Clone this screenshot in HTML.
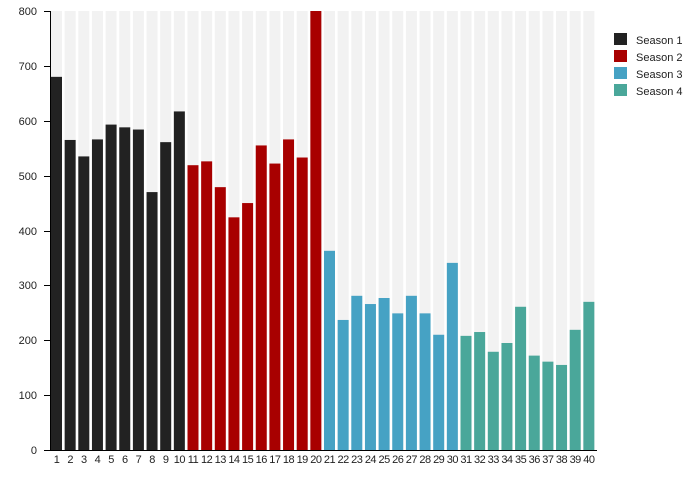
<!DOCTYPE html>
<html><head><meta charset="utf-8"><style>
html,body{margin:0;padding:0;background:#fff;}
svg{display:block;font-family:"Liberation Sans",sans-serif;}
</style></head><body>
<svg width="696" height="500" xmlns="http://www.w3.org/2000/svg">
<g transform="translate(0,450) scale(1,-0.54875)">
<g fill="#f2f2f2">
<rect x="51" y="0" width="11" height="800"/><rect x="64.65" y="0" width="11" height="800"/><rect x="78.3" y="0" width="11" height="800"/><rect x="91.95" y="0" width="11" height="800"/><rect x="105.6" y="0" width="11" height="800"/><rect x="119.25" y="0" width="11" height="800"/><rect x="132.9" y="0" width="11" height="800"/><rect x="146.55" y="0" width="11" height="800"/><rect x="160.2" y="0" width="11" height="800"/><rect x="173.85" y="0" width="11" height="800"/><rect x="187.5" y="0" width="11" height="800"/><rect x="201.15" y="0" width="11" height="800"/><rect x="214.8" y="0" width="11" height="800"/><rect x="228.45" y="0" width="11" height="800"/><rect x="242.1" y="0" width="11" height="800"/><rect x="255.75" y="0" width="11" height="800"/><rect x="269.4" y="0" width="11" height="800"/><rect x="283.05" y="0" width="11" height="800"/><rect x="296.7" y="0" width="11" height="800"/><rect x="310.35" y="0" width="11" height="800"/><rect x="324" y="0" width="11" height="800"/><rect x="337.65" y="0" width="11" height="800"/><rect x="351.3" y="0" width="11" height="800"/><rect x="364.95" y="0" width="11" height="800"/><rect x="378.6" y="0" width="11" height="800"/><rect x="392.25" y="0" width="11" height="800"/><rect x="405.9" y="0" width="11" height="800"/><rect x="419.55" y="0" width="11" height="800"/><rect x="433.2" y="0" width="11" height="800"/><rect x="446.85" y="0" width="11" height="800"/><rect x="460.5" y="0" width="11" height="800"/><rect x="474.15" y="0" width="11" height="800"/><rect x="487.8" y="0" width="11" height="800"/><rect x="501.45" y="0" width="11" height="800"/><rect x="515.1" y="0" width="11" height="800"/><rect x="528.75" y="0" width="11" height="800"/><rect x="542.4" y="0" width="11" height="800"/><rect x="556.05" y="0" width="11" height="800"/><rect x="569.7" y="0" width="11" height="800"/><rect x="583.35" y="0" width="11" height="800"/>
</g>
<g fill="#222222">
<rect x="51" y="0" width="11" height="680"/><rect x="64.65" y="0" width="11" height="565"/><rect x="78.3" y="0" width="11" height="535"/><rect x="91.95" y="0" width="11" height="566"/><rect x="105.6" y="0" width="11" height="593"/><rect x="119.25" y="0" width="11" height="588"/><rect x="132.9" y="0" width="11" height="584"/><rect x="146.55" y="0" width="11" height="470"/><rect x="160.2" y="0" width="11" height="561"/><rect x="173.85" y="0" width="11" height="617"/>
</g>
<g fill="#a80000">
<rect x="187.5" y="0" width="11" height="519"/><rect x="201.15" y="0" width="11" height="526"/><rect x="214.8" y="0" width="11" height="479"/><rect x="228.45" y="0" width="11" height="424"/><rect x="242.1" y="0" width="11" height="450"/><rect x="255.75" y="0" width="11" height="555"/><rect x="269.4" y="0" width="11" height="522"/><rect x="283.05" y="0" width="11" height="566"/><rect x="296.7" y="0" width="11" height="533"/><rect x="310.35" y="0" width="11" height="800"/>
</g>
<g fill="#46a2c4">
<rect x="324" y="0" width="11" height="363"/><rect x="337.65" y="0" width="11" height="237"/><rect x="351.3" y="0" width="11" height="281"/><rect x="364.95" y="0" width="11" height="266"/><rect x="378.6" y="0" width="11" height="277"/><rect x="392.25" y="0" width="11" height="249"/><rect x="405.9" y="0" width="11" height="281"/><rect x="419.55" y="0" width="11" height="249"/><rect x="433.2" y="0" width="11" height="210"/><rect x="446.85" y="0" width="11" height="341"/>
</g>
<g fill="#4aa79a">
<rect x="460.5" y="0" width="11" height="208"/><rect x="474.15" y="0" width="11" height="215"/><rect x="487.8" y="0" width="11" height="179"/><rect x="501.45" y="0" width="11" height="195"/><rect x="515.1" y="0" width="11" height="261"/><rect x="528.75" y="0" width="11" height="172"/><rect x="542.4" y="0" width="11" height="161"/><rect x="556.05" y="0" width="11" height="155"/><rect x="569.7" y="0" width="11" height="219"/><rect x="583.35" y="0" width="11" height="270"/>
</g>
</g>
<g stroke="#000" stroke-width="1" fill="none" shape-rendering="crispEdges">
<line x1="50.5" y1="11" x2="50.5" y2="450"/>
<line x1="44" y1="450.5" x2="597" y2="450.5"/>
<line x1="44" y1="11.5" x2="50" y2="11.5"/>
<line x1="44" y1="66.5" x2="50" y2="66.5"/>
<line x1="44" y1="121.5" x2="50" y2="121.5"/>
<line x1="44" y1="176.5" x2="50" y2="176.5"/>
<line x1="44" y1="231.5" x2="50" y2="231.5"/>
<line x1="44" y1="285.5" x2="50" y2="285.5"/>
<line x1="44" y1="340.5" x2="50" y2="340.5"/>
<line x1="44" y1="395.5" x2="50" y2="395.5"/>
</g>
<g font-size="11" fill="#222" text-anchor="end">
<text x="37" y="15">800</text><text x="37" y="70">700</text><text x="37" y="125">600</text><text x="37" y="180">500</text><text x="37" y="235">400</text><text x="37" y="289">300</text><text x="37" y="344">200</text><text x="37" y="399">100</text><text x="37" y="454">0</text>
</g>
<g font-size="11" fill="#222" text-anchor="middle" letter-spacing="-0.5">
<text x="56.5" y="463">1</text><text x="70.15" y="463">2</text><text x="83.8" y="463">3</text><text x="97.45" y="463">4</text><text x="111.1" y="463">5</text><text x="124.75" y="463">6</text><text x="138.4" y="463">7</text><text x="152.05" y="463">8</text><text x="165.7" y="463">9</text><text x="179.35" y="463">10</text><text x="193" y="463">11</text><text x="206.65" y="463">12</text><text x="220.3" y="463">13</text><text x="233.95" y="463">14</text><text x="247.6" y="463">15</text><text x="261.25" y="463">16</text><text x="274.9" y="463">17</text><text x="288.55" y="463">18</text><text x="302.2" y="463">19</text><text x="315.85" y="463">20</text><text x="329.5" y="463">21</text><text x="343.15" y="463">22</text><text x="356.8" y="463">23</text><text x="370.45" y="463">24</text><text x="384.1" y="463">25</text><text x="397.75" y="463">26</text><text x="411.4" y="463">27</text><text x="425.05" y="463">28</text><text x="438.7" y="463">29</text><text x="452.35" y="463">30</text><text x="466" y="463">31</text><text x="479.65" y="463">32</text><text x="493.3" y="463">33</text><text x="506.95" y="463">34</text><text x="520.6" y="463">35</text><text x="534.25" y="463">36</text><text x="547.9" y="463">37</text><text x="561.55" y="463">38</text><text x="575.2" y="463">39</text><text x="588.85" y="463">40</text>
</g>
<rect x="614" y="33" width="13" height="12" fill="#222222"/>
<rect x="614" y="50" width="13" height="12" fill="#a80000"/>
<rect x="614" y="67" width="13" height="12" fill="#46a2c4"/>
<rect x="614" y="84" width="13" height="12" fill="#4aa79a"/>
<g font-size="11" fill="#222">
<text x="636" y="44">Season 1</text><text x="636" y="61">Season 2</text><text x="636" y="78">Season 3</text><text x="636" y="95">Season 4</text>
</g>
</svg>
</body></html>
